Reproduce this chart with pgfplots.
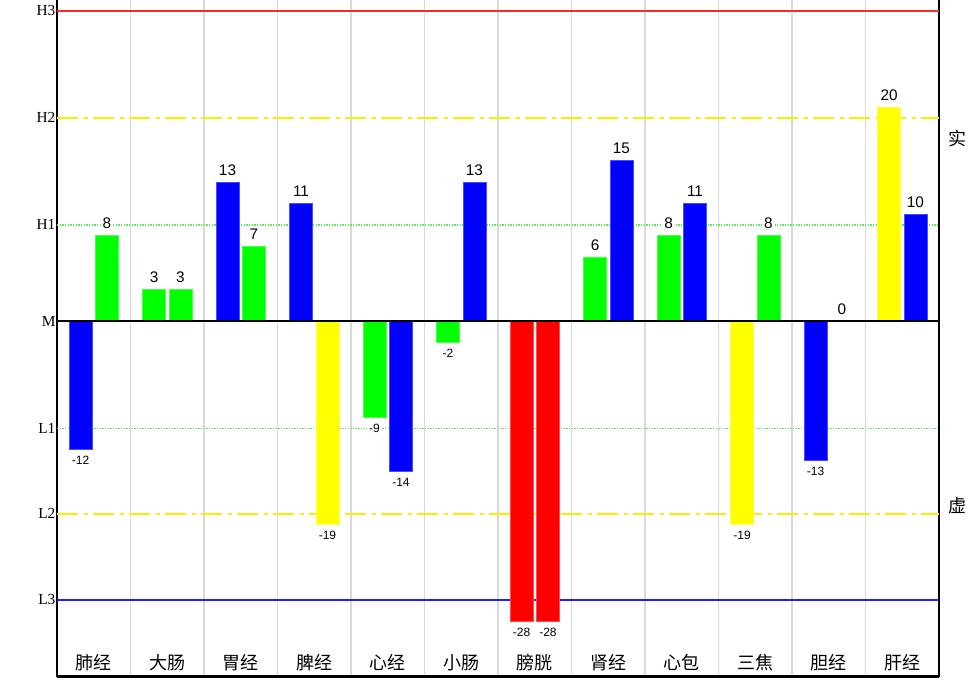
\documentclass[border=0pt]{standalone}
\usepackage{pgfplots}
\pgfplotsset{compat=1.18}
\usepackage{fontspec}
\setmainfont{Liberation Sans}
\newfontfamily\cjk{Noto Sans CJK SC}
\newfontfamily\tickfont{Liberation Serif}
\definecolor{cblue}{RGB}{0,0,255}
\definecolor{cgreen}{RGB}{0,255,0}
\definecolor{cyellow}{RGB}{255,255,0}
\definecolor{cred}{RGB}{255,0,0}
\definecolor{lred}{RGB}{255,40,40}
\definecolor{lyellow}{RGB}{255,235,0}
\definecolor{lgreen}{RGB}{80,240,80}
\definecolor{lblue}{RGB}{30,30,255}
\begin{document}
\begin{tikzpicture}
\begin{axis}[
  scale only axis, width=661.5pt, height=507.5pt,
  xmin=-0.5, xmax=11.5, ymin=-33.2, ymax=30,
  separate axis lines, axis x line*=bottom, axis y line*=box,
  axis line style={black, line width=1.8pt},
  xtick={0,...,11},
  xticklabels={肺经,大肠,胃经,脾经,心经,小肠,膀胱,肾经,心包,三焦,胆经,肝经},
  xticklabel style={font=\cjk\fontsize{13.5}{13.5}\selectfont, anchor=south, yshift=1pt},
  minor xtick={0.5,1.5,...,10.5}, xminorgrids,
  minor grid style={black!15, line width=0.9pt},
  major tick length=0pt, minor tick length=0pt,
  ytick={-26,-18,-10,0,9,19,29},
  yticklabels={L3,L2,L1,M,H1,H2,H3},
  yticklabel style={font=\tickfont\fontsize{11.5}{11.5}\selectfont, inner sep=1pt},
  ytick pos=left, xtick pos=bottom,
  clip=false,
  mybar/.style={ybar, bar width=0.31, bar shift=0pt, fill=#1, draw=#1!70!white, line width=0.5pt,
    nodes near coords={\pgfmathfloatifflags{\pgfplotspointmeta}{-}{\fontsize{9}{9}\selectfont}{\fontsize{11.5}{11.5}\selectfont}\pgfmathprintnumber[assume math mode=true]{\pgfplotspointmeta}},
    every node near coord/.append style={fill=white, inner sep=1.5pt, outer sep=3.5pt, text=black}},
]
\coordinate (bl) at (rel axis cs:0,0);
\coordinate (tr) at (rel axis cs:1,1);
% reference levels
\addplot[draw=lred, line width=1.5pt, mark=none, forget plot] coordinates {(-0.5,29) (11.5,29)};
\addplot[draw=lyellow, line width=1.5pt, dash pattern=on 16pt off 4pt on 3pt off 4pt, mark=none, forget plot] coordinates {(-0.5,19) (11.5,19)};
\addplot[draw=lgreen, line width=1.1pt, dash pattern=on 1.1pt off 0.9pt, mark=none, forget plot] coordinates {(-0.5,9) (11.5,9)};
\addplot[draw=lgreen, line width=1.1pt, dash pattern=on 1.1pt off 0.9pt, mark=none, forget plot] coordinates {(-0.5,-10) (11.5,-10)};
\addplot[draw=lyellow, line width=1.5pt, dash pattern=on 16pt off 4pt on 3pt off 4pt, mark=none, forget plot] coordinates {(-0.5,-18) (11.5,-18)};
\addplot[draw=lblue, line width=1.5pt, mark=none, forget plot] coordinates {(-0.5,-26) (11.5,-26)};
% bars
\addplot[mybar=cblue] coordinates {(-0.18,-12) (1.82,13) (2.82,11) (4.18,-14) (5.18,13) (7.18,15) (8.18,11) (9.82,-13) (11.18,10)};
\addplot[mybar=cgreen] coordinates {(0.18,8) (0.82,3) (1.18,3) (2.18,7) (3.82,-9) (4.82,-2) (6.82,6) (7.82,8) (9.18,8) (10.18,0)};
\addplot[mybar=cyellow] coordinates {(3.18,-19) (8.82,-19) (10.82,20)};
\addplot[mybar=cred] coordinates {(5.82,-28) (6.18,-28)};
% mid line
\addplot[draw=black, line width=1.2pt, mark=none, forget plot] coordinates {(-0.5,0) (11.5,0)};
\node[font=\cjk\fontsize{13.5}{13.5}\selectfont, anchor=west, inner sep=0pt] at ([xshift=6.75pt]axis cs:11.5,17.1) {实};
\node[font=\cjk\fontsize{13.5}{13.5}\selectfont, anchor=west, inner sep=0pt] at ([xshift=6.75pt]axis cs:11.5,-17.2) {虚};
\end{axis}
\pgfresetboundingbox
\path ([xshift=-42.75pt,yshift=-11.25pt]bl) rectangle ([xshift=30.75pt]tr);
\end{tikzpicture}
\end{document}
